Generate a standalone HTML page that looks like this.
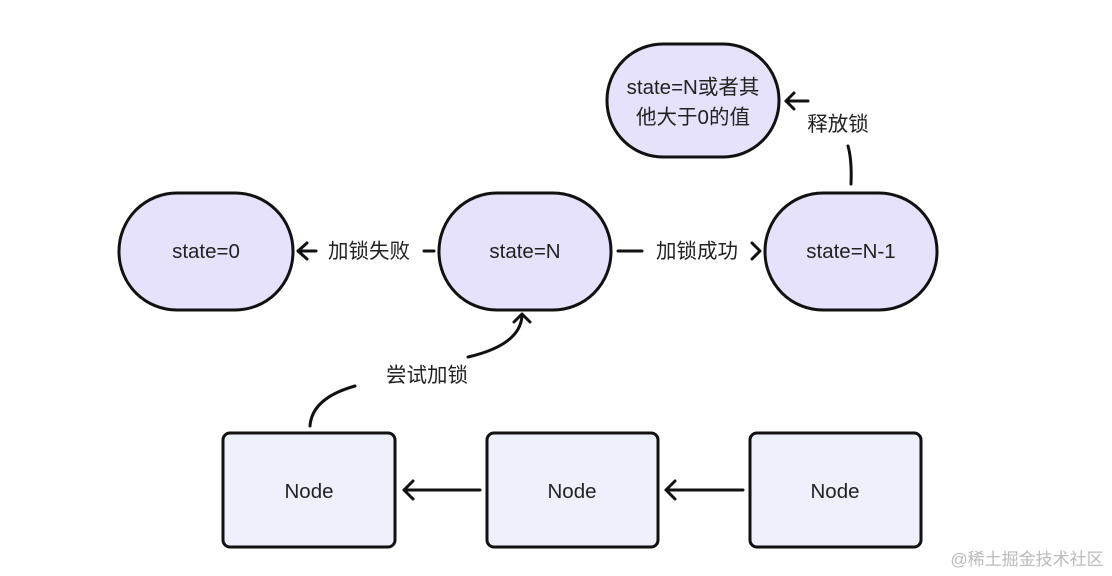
<!DOCTYPE html>
<html><head><meta charset="utf-8"><style>
html,body{margin:0;padding:0;background:#fff;}
svg{display:block;}
text{font-family:"Liberation Sans","Noto Sans CJK SC",sans-serif;font-size:20.5px;fill:#222;}
</style></head><body>
<svg width="1112" height="576" viewBox="0 0 1112 576">
<g stroke="#111" stroke-width="3" fill="#e6e2fb">
<rect x="119" y="193" width="174" height="117" rx="58" ry="58"/>
<rect x="439" y="193" width="172" height="117" rx="58" ry="58"/>
<rect x="765" y="193" width="172" height="117" rx="58" ry="58"/>
<rect x="607" y="44" width="172" height="113" rx="56" ry="56"/>
</g>
<g stroke="#111" stroke-width="3" fill="#eef1fb">
<rect x="223" y="433" width="172" height="114" rx="7"/>
<rect x="487" y="433" width="171" height="114" rx="7"/>
<rect x="750" y="433" width="171" height="114" rx="7"/>
</g>
<g stroke="#111" stroke-width="3" fill="none" stroke-linecap="round" stroke-linejoin="round">
<path d="M434 251 L424 251"/>
<path d="M298 251 L316 251"/>
<path d="M307 243 L298 251 L307 259"/>
<path d="M618 251 L642 251"/>
<path d="M752 243 L760 251 L752 259"/>
<path d="M851 184 Q852 160 848 146"/>
<path d="M786 101 L808 101"/>
<path d="M794 93 L786 101 L794 109"/>
<path d="M310 426 Q312 398 355 386"/>
<path d="M468 357 Q520 345 522 316"/>
<path d="M514 322 L522 314 L530 322"/>
<path d="M480 490 L404 490"/>
<path d="M413 481 L404 490 L413 499"/>
<path d="M743 490 L666 490"/>
<path d="M675 481 L666 490 L675 499"/>
</g>
<g text-anchor="middle">
<text x="206" y="258">state=0</text>
<text x="525" y="258">state=N</text>
<text x="851" y="258">state=N-1</text>
<text x="693" y="94">state=N或者其</text>
<text x="693" y="124">他大于0的值</text>
<text x="369" y="258">加锁失败</text>
<text x="697" y="258">加锁成功</text>
<text x="838" y="131">释放锁</text>
<text x="427" y="382">尝试加锁</text>
<text x="309" y="498">Node</text>
<text x="572" y="498">Node</text>
<text x="835" y="498">Node</text>
<text x="1027" y="565" style="font-size:17px;fill:#bbb;">@稀土掘金技术社区</text>
</g>
</svg>
</body></html>
